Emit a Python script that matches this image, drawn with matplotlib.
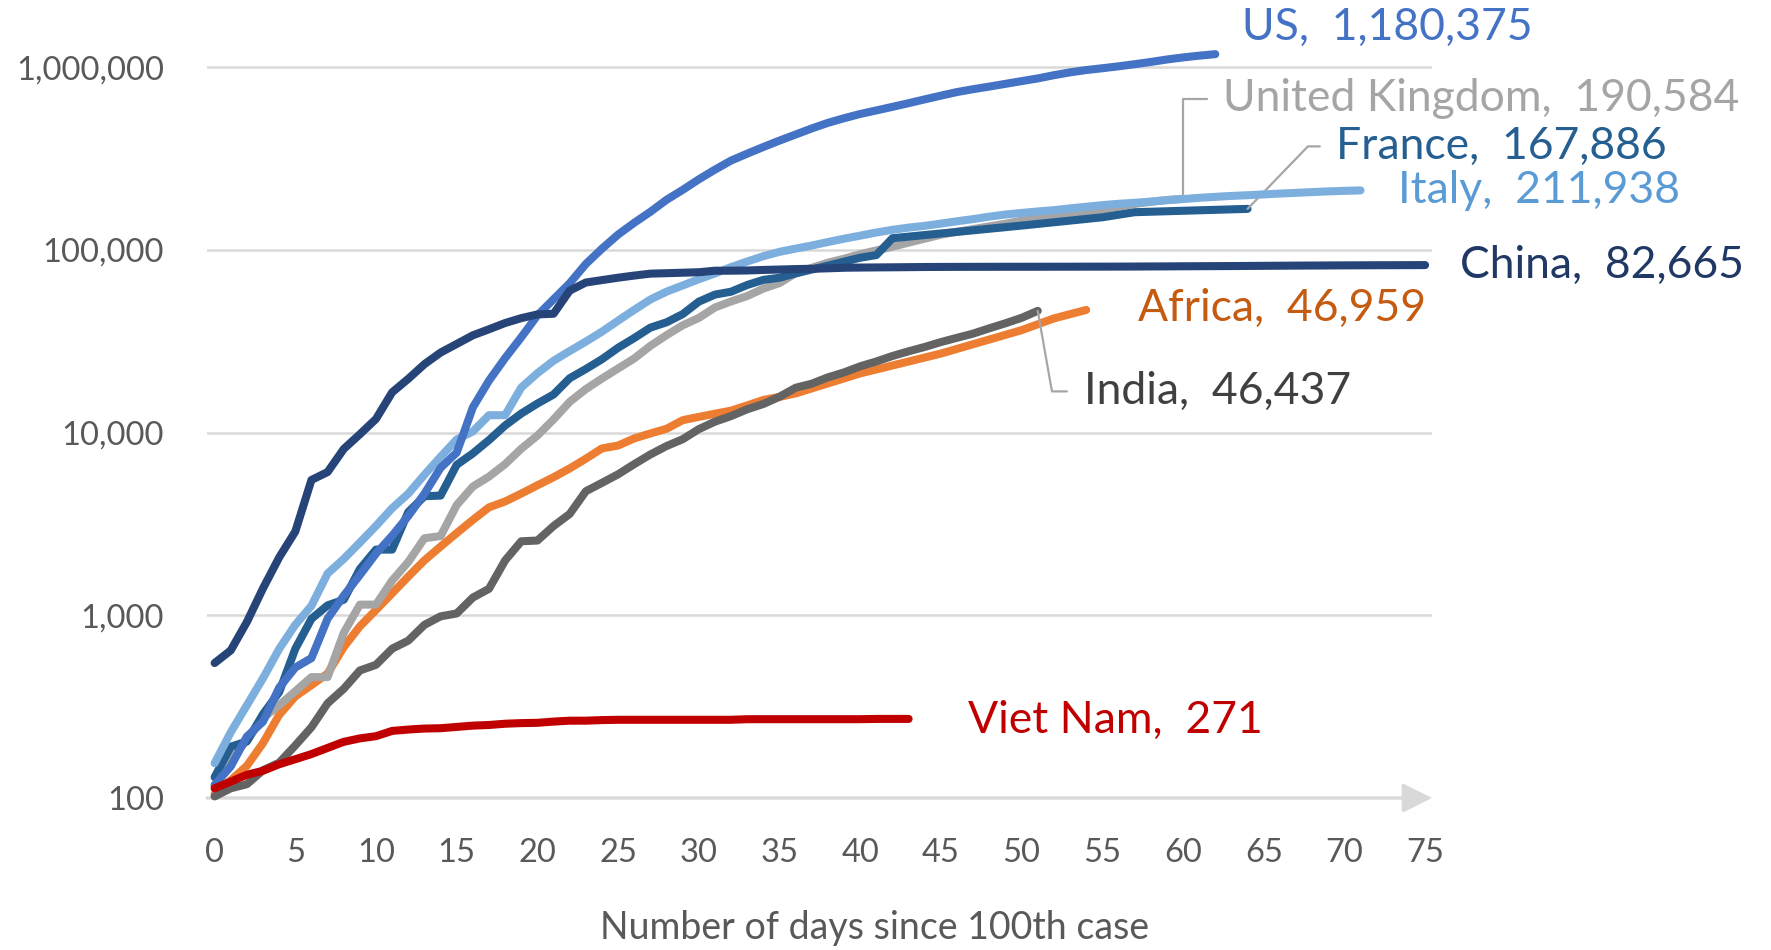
import matplotlib
matplotlib.use("Agg")
import matplotlib.pyplot as plt
from matplotlib.ticker import FixedLocator, NullLocator

plt.rcParams['font.family'] = ['Lato', 'DejaVu Sans']

# cumulative confirmed cases, by day since the 100th case
us_days = list(range(63))
us_cases = [118, 149, 217, 262, 402, 518, 583, 959, 1281, 1663, 2179, 2727, 3499, 4632,
            6421, 7783, 13747, 19273, 25600, 33276, 43847, 53740, 65778, 83836, 101657,
            121465, 140909, 161831, 188172, 213242, 243622, 275367, 308650, 336802, 366317,
            397121, 428654, 462780, 496535, 526396, 555313, 580619, 607670, 636350, 667592,
            699706, 732197, 759086, 784326, 811865, 840351, 869170, 905358, 938154, 965785,
            988197, 1012582, 1039909, 1069424, 1103461, 1132539, 1158040, 1180375]

uk_days = list(range(61))
uk_cases = [116, 164, 207, 274, 322, 384, 459, 459, 802, 1144, 1145, 1551, 1960, 2642, 2716,
            4014, 5067, 5745, 6726, 8164, 9640, 11812, 14745, 17312, 19780, 22453, 25481,
            29865, 34173, 38689, 42477, 48436, 52279, 55949, 61474, 65872, 74605, 79874,
            85206, 89570, 94845, 99483, 104145, 109769, 115314, 121172, 125856, 130172,
            134638, 139246, 144640, 149569, 154037, 158348, 162350, 166441, 172481, 178685,
            183500, 187842, 190584]

france_days = list(range(42)) + [42, 50, 55, 57, 64]
france_cases = [130, 191, 204, 288, 380, 656, 957, 1134, 1217, 1792, 2290, 2290, 3678, 4487,
                4523, 6668, 7699, 9105, 10947, 12726, 14431, 16176, 19856, 22304, 25233, 29155,
                32964, 37575, 40174, 44550, 52128, 56989, 59105, 64338, 68605, 70478, 74390,
                78167, 82048, 86334, 90676, 93790,
                116000, 136000, 151000, 161000, 167886]

italy_days = list(range(72))
italy_cases = [155, 229, 322, 453, 655, 888, 1128, 1694, 2036, 2502, 3089, 3858, 4636, 5883,
               7375, 9172, 10149, 12462, 12462, 17660, 21157, 24747, 27980, 31506, 35713,
               41035, 47021, 53578, 59138, 63927, 69176, 74386, 80589, 86498, 92472, 97689,
               101739, 105792, 110574, 115242, 119827, 124632, 128948, 132547, 135586, 139422,
               143626, 147577, 152271, 156363, 159516, 162488, 165155, 168941, 172434, 175925,
               178972, 181228, 183957, 187327, 189973, 192994, 195351, 197675, 199414, 201505,
               203591, 205463, 207428, 209328, 210717, 211938]

china_days = list(range(76))
china_cases = [548, 643, 920, 1406, 2075, 2877, 5509, 6087, 8141, 9802, 11891, 16630, 19716,
               23707, 27440, 30587, 34110, 36814, 39829, 42354, 44386, 44759, 59895, 66358,
               68413, 70513, 72434, 74211, 74619, 75077, 75550, 77001, 77022, 77241, 77754,
               78166, 78600, 78928, 79356, 79932, 80136, 80261, 80386, 80537, 80690, 80770,
               80823, 80860, 80887, 80921, 80932, 80945, 80977, 81003, 81033, 81058, 81102,
               81156, 81250, 81305, 81435, 81498, 81591, 81661, 81782, 81897, 81999, 82122,
               82198, 82279, 82361, 82432, 82511, 82543, 82602, 82665]

africa_days = list(range(37)) + [40, 45, 50, 52, 54]
africa_cases = [105, 125, 150, 200, 285, 360, 415, 480, 670, 870, 1070, 1320, 1630, 2000, 2380,
                2820, 3330, 3900, 4200, 4640, 5150, 5700, 6370, 7200, 8200, 8500, 9300, 9900,
                10500, 11700, 12200, 12700, 13200, 14100, 15100, 15700, 16400,
                21100, 27100, 36400, 42200, 46959]

india_days = list(range(52))
india_cases = [102, 113, 119, 142, 156, 194, 244, 330, 396, 499, 536, 657, 727, 887, 987, 1024,
               1251, 1397, 1998, 2543, 2567, 3082, 3588, 4778, 5311, 5916, 6725, 7598, 8446,
               9205, 10453, 11487, 12322, 13430, 14352, 15722, 17615, 18539, 20080, 21370,
               23077, 24530, 26283, 27890, 29451, 31324, 33062, 34863, 37257, 39699, 42505,
               46437]

vietnam_days = list(range(44))
vietnam_cases = [113, 123, 134, 141, 153, 163, 174, 188, 203, 212, 218, 233, 237, 240, 241, 245,
                 249, 251, 255, 257, 258, 262, 265, 265, 267] + [268] * 8 + [270] * 8 + [271] * 3

yticks = [100, 1000, 10000, 100000, 1000000]
ytick_labels = ['100', '1,000', '10,000', '100,000', '1,000,000']
xticks = list(range(0, 80, 5))

fig = plt.figure(figsize=(17.71, 9.5), dpi=100)
ax = fig.add_axes([0.1169, 0.16, 0.6917, 0.8084])

# name, days, cases, line colour, text colour, label offset (pt), leader style
series = [
    ('Africa', africa_days, africa_cases, '#ED7D31', '#C55A11', (37, 1), None),
    ('India', india_days, india_cases, '#636363', '#404040', (33, -58), 'angle,angleA=0,angleB=-80'),
    ('United Kingdom', uk_days, uk_cases, '#A5A5A5', '#A5A5A5', (29, 72), 'angle,angleA=0,angleB=90'),
    ('France', france_days, france_cases, '#255E91', '#255E91', (64, 45), 'angle,angleA=0,angleB=46'),
    ('Italy', italy_days, italy_cases, '#7DAFDE', '#5B9BD5', (27, 0), None),
    ('US', us_days, us_cases, '#4472C4', '#4472C4', (19, 19), None),
    ('China', china_days, china_cases, '#264478', '#203864', (25, 0), None),
    ('Viet Nam', vietnam_days, vietnam_cases, '#C00000', '#C00000', (43, -1), None),
]

for name, days, cases, col, tcol, off, leader in series:
    ax.plot(days, cases, color=col, lw=5.8, solid_capstyle='round', clip_on=False, zorder=3)
    label = f'{name},  {cases[-1]:,}'
    kw = {}
    if leader:
        kw['arrowprops'] = dict(arrowstyle='-', color='#A6A6A6', lw=1.6,
                                connectionstyle=leader, shrinkA=10, shrinkB=0,
                                relpos=(0, 0.5))
    ax.annotate(label, xy=(days[-1], cases[-1]), xytext=off, textcoords='offset points',
                ha='left', va='center', fontsize=32, color=tcol, annotation_clip=False, **kw)

ax.set_yscale('log')
ax.set_ylim(100, 1.6e6)
ax.set_xlim(-0.47, 75.43)
ax.yaxis.set_major_locator(FixedLocator(yticks))
ax.yaxis.set_minor_locator(NullLocator())
ax.set_yticklabels(ytick_labels)
ax.set_xticks(xticks)
ax.tick_params(axis='both', length=0, labelsize=23.5, labelcolor='#595959')
ax.tick_params(axis='y', pad=31)
ax.tick_params(axis='x', pad=29)
ax.grid(axis='y', color='#D9D9D9', lw=1.8, zorder=0)
for s in ax.spines.values():
    s.set_visible(False)

# horizontal axis with arrow head
ax.annotate('', xy=(75.43, 100), xytext=(-0.47, 100),
            arrowprops=dict(arrowstyle='-|>', color='#D9D9D9', lw=2.4,
                            mutation_scale=45, shrinkA=0, shrinkB=0),
            annotation_clip=False, zorder=1)

fig.text(0.494, 0.023, 'Number of days since 100th case', ha='center', va='center',
         fontsize=27, color='#595959')

fig.savefig('out.png', dpi=100)
